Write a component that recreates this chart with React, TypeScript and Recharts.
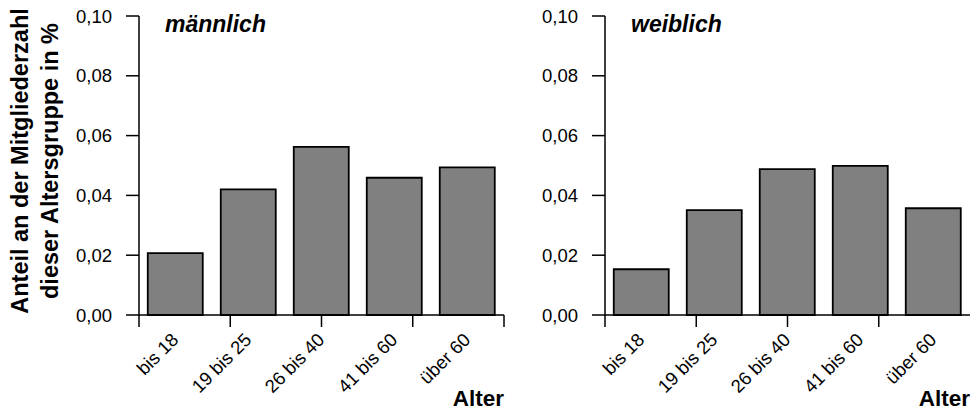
import { BarChart, Bar, XAxis, YAxis } from 'recharts'

const ageGroups = ['bis 18', '19 bis 25', '26 bis 40', '41 bis 60', 'über 60']
const maleShare = [0.0207, 0.042, 0.0562, 0.0459, 0.0494]
const femaleShare = [0.0153, 0.0351, 0.0488, 0.0499, 0.0357]
const shareTicks = [0, 0.02, 0.04, 0.06, 0.08, 0.1]
const edgeTicks = [0, 1, 2, 3, 4, 5]

const maleData = ageGroups.map((age, i) => ({ age, share: maleShare[i] }))
const femaleData = ageGroups.map((age, i) => ({ age, share: femaleShare[i] }))

const FONT = "'Liberation Sans', Arial, Helvetica, sans-serif"
const H = 412

function fmtShare(v: number): string {
  return v.toFixed(2).replace('.', ',')
}

function AgeTick(props: any) {
  const { x, y, payload } = props
  const ax = x + 4
  const ay = y + 14
  return (
    <text
      x={ax}
      y={ay}
      transform={`rotate(-45 ${ax} ${ay})`}
      textAnchor="end"
      fontSize={18.5}
      fontFamily={FONT}
      fill="#000"
    >
      {payload.value}
    </text>
  )
}

interface PanelProps {
  data: { age: string; share: number }[]
  title: string
  width: number
  axisWidth: number
  rightMargin: number
  yLabel?: boolean
}

function Panel({ data, title, width, axisWidth, rightMargin, yLabel }: PanelProps) {
  return (
    <BarChart
      width={width}
      height={H}
      data={data}
      margin={{ top: 16, right: rightMargin, bottom: 0, left: 0 }}
      barCategoryGap="12%"
    >
      {/* category labels, below the edge ticks */}
      <XAxis
        xAxisId="b-cat"
        dataKey="age"
        height={85}
        axisLine={false}
        tickLine={false}
        tickSize={0}
        tickMargin={0}
        interval={0}
        tick={<AgeTick />}
      />
      {/* axis line with ticks between the categories */}
      <XAxis
        xAxisId="a-edge"
        type="number"
        domain={[0, 5]}
        ticks={edgeTicks}
        allowDataOverflow
        height={12}
        tickSize={12}
        tickFormatter={() => ''}
        tickLine={{ stroke: '#000', strokeWidth: 1.5 }}
        axisLine={{ stroke: '#000', strokeWidth: 1.5 }}
      />
      <YAxis
        domain={[0, 0.1]}
        ticks={shareTicks}
        width={axisWidth}
        tickSize={13}
        tickMargin={14}
        tickFormatter={fmtShare}
        tick={{ fill: '#000', fontSize: 18.5, fontFamily: FONT }}
        tickLine={{ stroke: '#000', strokeWidth: 1.5 }}
        axisLine={{ stroke: '#000', strokeWidth: 1.5 }}
      />
      <Bar
        xAxisId="b-cat"
        dataKey="share"
        fill="#808080"
        stroke="#000"
        strokeWidth={1.8}
        isAnimationActive={false}
      />
      <text
        x={axisWidth + 26}
        y={32}
        fontSize={23}
        fontWeight="bold"
        fontStyle="italic"
        fontFamily={FONT}
        fill="#000"
      >
        {title}
      </text>
      <text
        x={width - rightMargin}
        y={406}
        textAnchor="end"
        fontSize={22.5}
        fontWeight="bold"
        fontFamily={FONT}
        fill="#000"
      >
        Alter
      </text>
      {yLabel && (
        <g fontSize={23.5} fontWeight="bold" fontFamily={FONT} fill="#000">
          <text transform="translate(28 161) rotate(-90)" textAnchor="middle">
            Anteil an der Mitgliederzahl
          </text>
          <text transform="translate(58 161) rotate(-90)" textAnchor="middle">
            dieser Altersgruppe in %
          </text>
        </g>
      )}
    </BarChart>
  )
}

export default function App() {
  return (
    <div
      style={{
        position: 'absolute',
        left: 0,
        top: 0,
        width: 973,
        height: H,
        background: '#fff',
        display: 'flex',
      }}
    >
      <Panel data={maleData} title="männlich" width={510} axisWidth={139} rightMargin={6} yLabel />
      <Panel data={femaleData} title="weiblich" width={463} axisWidth={95} rightMargin={3} />
    </div>
  )
}
